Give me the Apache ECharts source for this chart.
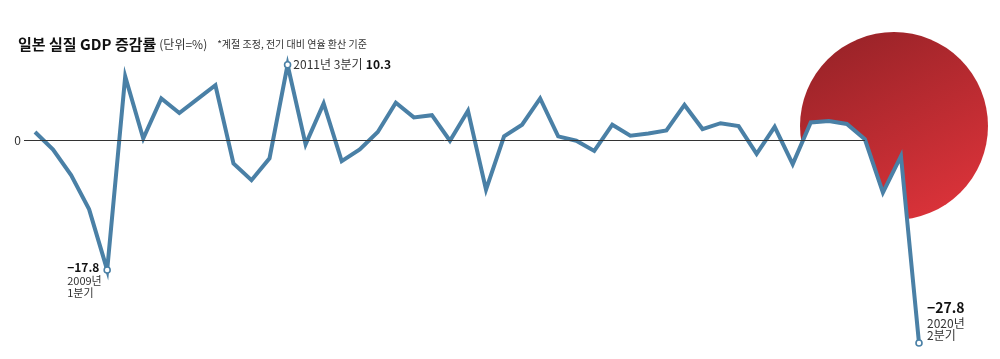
<!DOCTYPE html>
<html>
<head>
<meta charset="utf-8">
<script src="https://cdn.jsdelivr.net/npm/echarts@6/dist/echarts.min.js"></script>
<style>
html,body{margin:0;padding:0;background:#fff;}
#c{width:1000px;height:359px;}
</style>
</head>
<body>
<div id="c"></div>
<script>
// Quarters 2008 Q1 .. 2020 Q2
const quarters = [];
for (let y = 2008; y <= 2020; y++) for (let q = 1; q <= 4; q++) if (!(y === 2020 && q > 2)) quarters.push(y + '년 ' + q + '분기');

// Japan real GDP growth, annualised q/q (%)
const growth = [1.1, -1.3, -4.8, -9.5, -17.8, 8.7, 0.2, 5.7, 3.7, 5.6,
                7.5, -3.2, -5.5, -2.5, 10.3, -0.6, 5.0, -2.9, -1.3, 1.1,
                5.1, 3.1, 3.4, -0.1, 4.0, -6.8, 0.5, 2.1, 5.7, 0.5,
                -0.1, -1.5, 2.1, 0.6, 0.9, 1.3, 4.8, 1.5, 2.3, 1.9,
                -1.9, 1.8, -3.3, 2.4, 2.6, 2.2, 0.1, -7.2, -2.2, -27.8];

const yTicks = [0];
const titleMain = '일본 실질 GDP 증감률';
const titleUnit = '(단위=%)';
const titleNote = '*계절 조정, 전기 대비 연율 환산 기준';

const FONT = "'Noto Sans CJK KR', 'Noto Sans', sans-serif";
const BLUE = '#4a80a6';

const hollow = { symbol: 'circle', symbolSize: 6, itemStyle: { color: '#fff', borderColor: BLUE, borderWidth: 1.6 } };

const seriesData = growth.map((v, i) => {
  const d = { value: [i, v] };
  if (i === 4) {
    Object.assign(d, hollow, {
      label: {
        show: true, position: 'inside', align: 'left', verticalAlign: 'top', offset: [-40, -10],
        formatter: '{b|' + growth[i].toFixed(1).replace('-', '−') + '}\n{n|2009년}\n{n|1분기}',
        rich: {
          b: { fontFamily: FONT, fontSize: 12, fontWeight: 'bold', color: '#111', lineHeight: 15 },
          n: { fontFamily: FONT, fontSize: 11, color: '#333', lineHeight: 12 }
        }
      }
    });
  } else if (i === 14) {
    Object.assign(d, hollow, {
      label: {
        show: true, position: 'right', distance: 2,
        formatter: '{n|2011년 3분기} {b|' + growth[i].toFixed(1) + '}',
        rich: {
          b: { fontFamily: FONT, fontSize: 12, fontWeight: 'bold', color: '#111' },
          n: { fontFamily: FONT, fontSize: 12, color: '#333' }
        }
      }
    });
  } else if (i === growth.length - 1) {
    Object.assign(d, hollow, {
      label: {
        show: true, position: 'inside', align: 'left', verticalAlign: 'top', offset: [8, -44],
        formatter: '{b|' + growth[i].toFixed(1).replace('-', '−') + '}\n{n|2020년}\n{n|2분기}',
        rich: {
          b: { fontFamily: FONT, fontSize: 14, fontWeight: 'bold', color: '#111', lineHeight: 18 },
          n: { fontFamily: FONT, fontSize: 12, color: '#333', lineHeight: 12 }
        }
      }
    });
  }
  return d;
});

const chart = echarts.init(document.getElementById('c'), null, { renderer: 'canvas' });
chart.setOption({
  animation: false,
  backgroundColor: '#fff',
  title: {
    left: 13, top: 30,
    text: '{a|' + titleMain + '}{u|(단위=%)}  {s|' + titleNote + '}',
    textStyle: {
      rich: {
        a: { fontFamily: FONT, fontSize: 15, fontWeight: 'bold', color: '#111', padding: [0, 3, 0, 0] },
        u: { fontFamily: FONT, fontSize: 12, fontWeight: 'normal', color: '#333' },
        s: { fontFamily: FONT, fontSize: 10, fontWeight: 'normal', color: '#333' }
      }
    }
  },
  graphic: [{
    type: 'circle', z: 0, silent: true,
    shape: { cx: 894, cy: 126, r: 94 },
    style: {
      fill: { type: 'linear', x: 0.25, y: 0, x2: 0.75, y2: 1, colorStops: [
        { offset: 0, color: '#992328' }, { offset: 1, color: '#dc333a' }] }
    }
  }],
  grid: { left: 24, right: 81, top: 52.4, height: 306.6 },
  xAxis: {
    type: 'value', min: -0.61, max: growth.length - 1,
    axisLine: { show: false }, axisTick: { show: false }, axisLabel: { show: false }, splitLine: { show: false }
  },
  yAxis: {
    type: 'value', min: -30, max: 12, interval: 6,
    axisLine: { show: false }, axisTick: { show: false }, splitLine: { show: false },
    axisLabel: {
      margin: 3, fontFamily: FONT, fontSize: 12, color: '#333',
      formatter: v => (yTicks.indexOf(v) >= 0 ? String(v) : '')
    }
  },
  series: [{
    type: 'line', z: 3, clip: false,
    data: seriesData,
    showSymbol: true, symbol: 'none',
    lineStyle: { color: BLUE, width: 4, join: 'miter' },
    areaStyle: { color: '#fff', opacity: 1, origin: 'start' },
    markLine: {
      silent: true, symbol: 'none', label: { show: false },
      lineStyle: { color: '#333', width: 1, type: 'solid' },
      data: [[{ coord: [-0.61, 0] }, { coord: [46, 0] }]]
    }
  }]
});
</script>
</body>
</html>
